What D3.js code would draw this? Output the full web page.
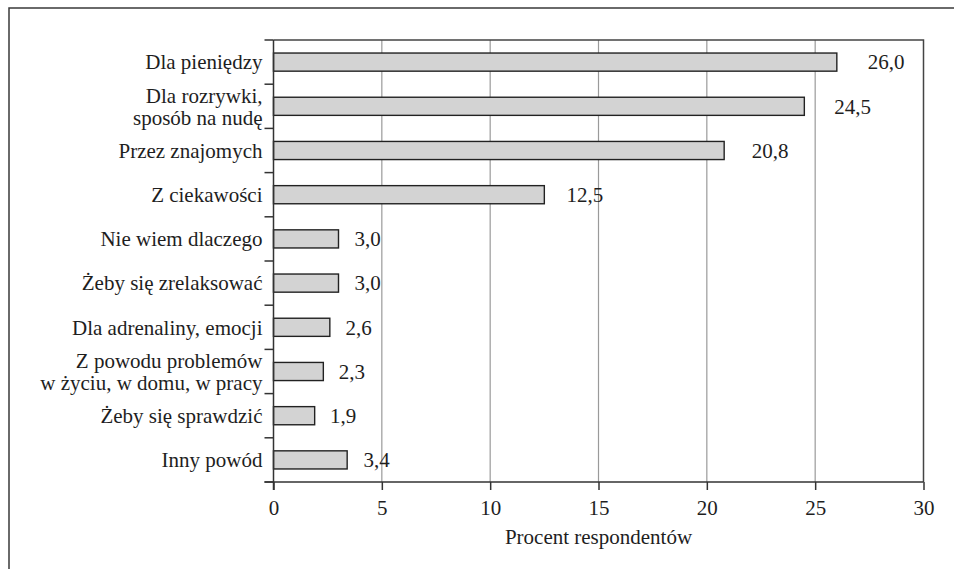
<!DOCTYPE html>
<html>
<head>
<meta charset="utf-8">
<script src="https://cdn.jsdelivr.net/npm/d3@7"></script>
<style>
  html, body { margin: 0; padding: 0; background: #fff; }
  svg { display: block; }
  svg text { fill: #1e1e1e; }
</style>
</head>
<body>
<svg id="chart" width="954" height="569"></svg>
<script>
// Reasons for playing, share of respondents (%)
const categories = [
  ["Dla pieniędzy"],
  ["Dla rozrywki,", "sposób na nudę"],
  ["Przez znajomych"],
  ["Z ciekawości"],
  ["Nie wiem dlaczego"],
  ["Żeby się zrelaksować"],
  ["Dla adrenaliny, emocji"],
  ["Z powodu problemów", "w życiu, w domu, w pracy"],
  ["Żeby się sprawdzić"],
  ["Inny powód"]
];
const values = [26.0, 24.5, 20.8, 12.5, 3.0, 3.0, 2.6, 2.3, 1.9, 3.4];
const valueLabels = ["26,0", "24,5", "20,8", "12,5", "3,0", "3,0", "2,6", "2,3", "1,9", "3,4"];
const xTicks = [0, 5, 10, 15, 20, 25, 30];
const xTitle = "Procent respondentów";

const svg = d3.select("#chart");
const W = 954, H = 569;
const plot = { left: 273.5, right: 923.5, top: 40, bottom: 482 };
const fontSize = 21;
const serif = "'Liberation Serif', 'Times New Roman', serif";

// outer frame (top and left edges)
svg.append("path")
  .attr("d", `M9,${H} V8 H${W}`)
  .attr("fill", "none").attr("stroke", "#3a3a3a").attr("stroke-width", 1.5);

const keys = categories.map((c, i) => i);
const x = d3.scaleLinear().domain([0, 30]).range([plot.left, plot.right]);
const y = d3.scaleBand().domain(keys).range([plot.top, plot.bottom]).padding(0);

// vertical gridlines
svg.append("g").selectAll("line")
  .data(xTicks.filter(t => t > 0 && t < 30))
  .join("line")
  .attr("x1", d => x(d)).attr("x2", d => x(d))
  .attr("y1", plot.top).attr("y2", plot.bottom)
  .attr("stroke", "#9a9a9a").attr("stroke-width", 1.2);

// top and right border of plot
svg.append("path")
  .attr("d", `M${plot.left},${plot.top} H${plot.right} V${plot.bottom}`)
  .attr("fill", "none").attr("stroke", "#444").attr("stroke-width", 1.5);

// bars
const barH = y.bandwidth() * 0.41;
svg.append("g").selectAll("rect")
  .data(values)
  .join("rect")
  .attr("x", x(0))
  .attr("y", (d, i) => y(i) + (y.bandwidth() - barH) / 2)
  .attr("width", d => x(d) - x(0))
  .attr("height", barH)
  .attr("fill", "#d3d3d3")
  .attr("stroke", "#222")
  .attr("stroke-width", 1.4);

// value labels
svg.append("g").selectAll("text")
  .data(values)
  .join("text")
  .attr("x", d => x(d) + 14 + 0.03 * (x(d) - x(0)))
  .attr("y", (d, i) => y(i) + y.bandwidth() / 2)
  .attr("dy", "0.35em")
  .attr("font-family", serif)
  .attr("font-size", fontSize)
  .text((d, i) => valueLabels[i]);

// x axis
const xAxis = svg.append("g")
  .attr("transform", `translate(0,${plot.bottom})`)
  .call(d3.axisBottom(x).tickValues(xTicks).tickSize(8).tickPadding(10)
    .tickFormat(d => String(d)));
xAxis.attr("font-family", serif).attr("font-size", fontSize);
xAxis.select(".domain").remove();
xAxis.selectAll(".tick line").attr("stroke", "#333").attr("stroke-width", 1.5);
xAxis.selectAll(".tick text").attr("fill", "#1e1e1e");
svg.append("line")
  .attr("x1", plot.left - 9).attr("x2", plot.right)
  .attr("y1", plot.bottom).attr("y2", plot.bottom)
  .attr("stroke", "#333").attr("stroke-width", 1.5);

// x title
svg.append("text")
  .attr("x", (plot.left + plot.right) / 2)
  .attr("y", 537)
  .attr("dy", "0.35em")
  .attr("text-anchor", "middle")
  .attr("font-family", serif)
  .attr("font-size", fontSize)
  .text(xTitle);

// y axis line with category boundary ticks
svg.append("line")
  .attr("x1", plot.left).attr("x2", plot.left)
  .attr("y1", plot.top).attr("y2", plot.bottom + 8)
  .attr("stroke", "#333").attr("stroke-width", 1.5);
const bounds = keys.map(k => y(k)).concat([plot.bottom]);
svg.append("g").selectAll("line")
  .data(bounds)
  .join("line")
  .attr("x1", plot.left - 9).attr("x2", plot.left)
  .attr("y1", d => d).attr("y2", d => d)
  .attr("stroke", "#333").attr("stroke-width", 1.5);

// category labels, one text element per line
const lineGap = 22;
const catLines = categories.flatMap((lines, i) =>
  lines.map((line, j) => ({ line, i, offset: (j - (lines.length - 1) / 2) * lineGap })));
svg.append("g").selectAll("text")
  .data(catLines)
  .join("text")
  .attr("text-anchor", "end")
  .attr("font-family", serif)
  .attr("font-size", fontSize)
  .attr("x", plot.left - 11)
  .attr("y", d => y(d.i) + y.bandwidth() / 2 + d.offset)
  .attr("dy", "0.35em")
  .text(d => d.line);
</script>
</body>
</html>
